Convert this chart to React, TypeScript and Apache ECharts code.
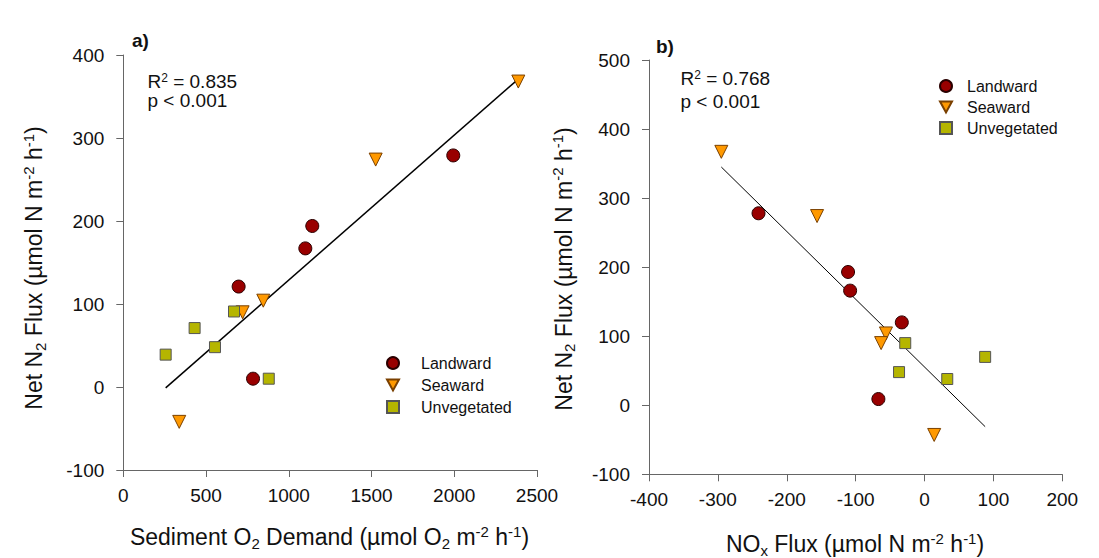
import React, { useEffect, useRef } from "react";
import * as echarts from "echarts";

// ---- Data ----
const landwardA = [[1994, 279], [1142, 194], [1100, 167], [697, 121], [784, 10]];
const seawardA = [[2387, 368], [1525, 274], [846, 104], [721, 90], [338, -42]];
const unvegA = [[669, 91], [431, 71], [554, 48], [256, 39], [879, 10]];
const fitA = [[256, -1], [2387, 371]];

const landwardB = [[-241, 278], [-111, 193], [-108, 166], [-33, 120], [-67, 9]];
const seawardB = [[-295, 367], [-156, 274], [-56, 104], [-63, 90], [14, -43]];
const unvegB = [[-28, 90], [88, 70], [-37, 48], [33, 38]];
const fitB = [[-295, 345], [88, -31]];

const statsA = ["0.835", "0.001"];
const statsB = ["0.768", "0.001"];
const seriesNames = ["Landward", "Seaward", "Unvegetated"];

const FONT = "'Liberation Sans', Arial, sans-serif";
const DOWN_TRIANGLE = "path://M0,0 L12,0 L6,11 Z";

const markerStyles = [
  { symbol: "circle", symbolSize: 13, symbolRotate: 0, itemStyle: { color: "#990000", borderColor: "#2a0000", borderWidth: 1, opacity: 1 } },
  { symbol: "triangle", symbolSize: 13, symbolRotate: 180, itemStyle: { color: "#ff9900", borderColor: "#7a4000", borderWidth: 1, opacity: 1 } },
  { symbol: "rect", symbolSize: 11, symbolRotate: 0, itemStyle: { color: "#b5b500", borderColor: "#555", borderWidth: 1, opacity: 1 } },
];

const axisCommon = {
  axisLine: { show: true, onZero: false, lineStyle: { color: "#666", width: 1 } },
  axisTick: { show: true, length: 7, lineStyle: { color: "#666", width: 1 } },
  splitLine: { show: false },
};

function makeXAxis(gridIndex: number, min: number, max: number, interval: number) {
  return {
    type: "value", gridIndex, min, max, interval, ...axisCommon,
    axisLabel: {
      fontSize: 19, color: "#111", fontFamily: FONT, margin: 16, showMinLabel: true, showMaxLabel: true,
      formatter: (v: number) => String(v),
    },
  };
}
function makeYAxis(gridIndex: number, min: number, max: number, interval: number) {
  return {
    type: "value", gridIndex, min, max, interval, ...axisCommon,
    axisLabel: {
      fontSize: 19, color: "#111", fontFamily: FONT, margin: 19, showMinLabel: true, showMaxLabel: true,
      formatter: (v: number) => String(v),
    },
  };
}

const rich = {
  sub: { fontSize: 15, verticalAlign: "bottom", lineHeight: 27, fontFamily: FONT, fill: "#111" },
  sup: { fontSize: 15, verticalAlign: "top", lineHeight: 27, fontFamily: FONT, fill: "#111" },
};
const smallRich = {
  sup: { fontSize: 12, verticalAlign: "top", lineHeight: 18, fontFamily: FONT, fill: "#111" },
};

function txt(x: number, y: number, text: string, opts: any = {}) {
  const { rotation, align, fontSize, fontWeight, richStyles, lineHeight } = opts;
  return {
    type: "text",
    x, y,
    rotation: rotation || 0,
    silent: true,
    style: {
      text,
      fontSize: fontSize || 19,
      fontWeight: fontWeight || "normal",
      fontFamily: FONT,
      fill: "#111",
      align: align || "left",
      verticalAlign: "middle",
      textAlign: align || "left",
      textVerticalAlign: "middle",
      lineHeight: lineHeight || undefined,
      rich: richStyles || undefined,
    },
  };
}

export default function App() {
  const ref = useRef<HTMLDivElement>(null);
  useEffect(() => {
    if (!ref.current) return;
    const chart = echarts.init(ref.current, null, { renderer: "svg" });

    const panels = [
      { data: [landwardA, seawardA, unvegA], fit: fitA, width: 1.5 },
      { data: [landwardB, seawardB, unvegB], fit: fitB, width: 1 },
    ];
    const series: any[] = [];
    panels.forEach((p, pi) => {
      p.data.forEach((d, si) => {
        series.push({
          type: "scatter", name: seriesNames[si], xAxisIndex: pi, yAxisIndex: pi, data: d,
          ...markerStyles[si], z: 3,
        });
      });
      series.push({
        type: "line", name: "fit" + pi, xAxisIndex: pi, yAxisIndex: pi, data: p.fit,
        symbol: "none", lineStyle: { color: "#000", width: p.width }, z: 2, silent: true,
      });
    });

    const legendData = [
      { name: seriesNames[0] },
      { name: seriesNames[1], icon: DOWN_TRIANGLE },
      { name: seriesNames[2] },
    ];
    const legendCommon = {
      orient: "vertical", itemWidth: 12, itemHeight: 12, itemGap: 0, selectedMode: false,
      data: legendData,
    };

    const axisTitleStyle = { fontSize: 23, lineHeight: 27, richStyles: rich, align: "center" };

    chart.setOption({
      animation: false,
      backgroundColor: "#fff",
      grid: [
        { left: 123.3, top: 55, width: 413.7, height: 415 },
        { left: 649, top: 60, width: 413.3, height: 414.3 },
      ],
      xAxis: [makeXAxis(0, 0, 2500, 500), makeXAxis(1, -400, 200, 100)],
      yAxis: [makeYAxis(0, -100, 400, 100), makeYAxis(1, -100, 500, 100)],
      legend: [
        { ...legendCommon, left: 381, top: 347, textStyle: { fontSize: 16, color: "#111", fontFamily: FONT, lineHeight: 22, padding: [0, 0, 0, 17] } },
        { ...legendCommon, left: 934, top: 70.5, textStyle: { fontSize: 16, color: "#111", fontFamily: FONT, lineHeight: 21, padding: [0, 0, 0, 10] } },
      ],
      series,
      graphic: [
        txt(132, 40, "a)", { fontWeight: "bold", fontSize: 19 }),
        txt(656, 46.5, "b)", { fontWeight: "bold", fontSize: 19 }),
        txt(147.5, 81, "R{sup|2} = " + statsA[0], { richStyles: smallRich, lineHeight: 18 }),
        txt(147.5, 100, "p < " + statsA[1], { lineHeight: 18 }),
        txt(680.5, 78, "R{sup|2} = " + statsB[0], { richStyles: smallRich, lineHeight: 18 }),
        txt(680.5, 101, "p < " + statsB[1], { lineHeight: 18 }),
        txt(329.5, 537, "Sediment O{sub|2} Demand (µmol O{sub|2} m{sup|-2} h{sup|-1})", axisTitleStyle),
        txt(855, 544, "NO{sub|x} Flux (µmol N m{sup|-2} h{sup|-1})", axisTitleStyle),
        txt(34, 268, "Net N{sub|2} Flux (µmol N m{sup|-2} h{sup|-1})", { ...axisTitleStyle, rotation: Math.PI / 2 }),
        txt(563.5, 269, "Net N{sub|2} Flux (µmol N m{sup|-2} h{sup|-1})", { ...axisTitleStyle, rotation: Math.PI / 2 }),
      ],
    });
    return () => chart.dispose();
  }, []);
  return (
    <div
      ref={ref}
      style={{ position: "fixed", left: 0, top: 0, width: 1099, height: 558, background: "#fff" }}
    />
  );
}
